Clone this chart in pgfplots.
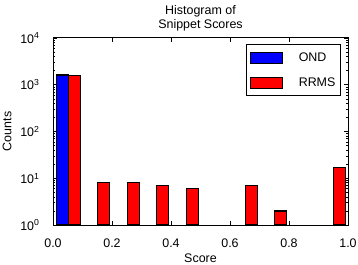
\documentclass[border=0pt]{standalone}
\usepackage{fontspec}
\setmainfont{Liberation Sans}
\usepackage{pgfplots}
\pgfplotsset{compat=1.18}
\begin{document}
\begin{tikzpicture}
\begin{axis}[
  scale only axis,
  width=295bp, height=187bp,
  xmin=0, xmax=1,
  ymode=log, ymin=1, ymax=10000,
  xtick={0,0.2,0.4,0.6,0.8,1.0},
  xticklabels={0.0,0.2,0.4,0.6,0.8,1.0},
  ytick={1,10,100,1000,10000},
  yticklabels={10\textsuperscript{0},10\textsuperscript{1},10\textsuperscript{2},10\textsuperscript{3},10\textsuperscript{4}},
  tick label style={font=\fontsize{12.5}{14}\selectfont},
  xticklabel style={yshift=-10bp},
  yticklabel style={xshift=-10bp},
  label style={font=\fontsize{12.5}{14}\selectfont},
  xlabel={Score}, ylabel={Counts},
  xlabel style={yshift=0bp},
  ylabel style={yshift=2bp},
  title={Histogram of\\Snippet Scores},
  title style={font=\fontsize{12.5}{14}\selectfont, align=center, yshift=-3bp},
  axis line style={line width=1pt},
  major tick length=4bp, minor tick length=2bp,
  tick style={black, line width=0.6pt},
  tick align=inside,
  bar width=11.8bp,
  legend style={at={(0.976,0.968)}, anchor=north east, draw=black, line width=1pt,
    font=\fontsize{12.5}{14}\selectfont, inner xsep=3bp, inner ysep=6bp,
    row sep=11bp, legend cell align=left},
  legend image code/.code={\draw[#1, line width=1pt] (0bp,-5.5bp) rectangle (32bp,5.5bp);},
]
\addplot[ybar, bar shift=0pt, fill=blue, draw=black, line width=1.2pt] coordinates {(0.032,1620)};
\addlegendentry{\hspace{14bp}OND\hspace{7bp}}
\addplot[ybar, bar shift=0pt, fill=red, draw=black, line width=1.2pt] coordinates {
(0.072,1600) (0.172,8) (0.272,8) (0.372,7) (0.472,6) (0.672,7) (0.772,2) (0.972,17)};
\addlegendentry{\hspace{14bp}RRMS\hspace{7bp}}
\end{axis}
\pgfresetboundingbox
\path (current axis.south west) ++(-53bp,-40bp) coordinate (bl);
\path (current axis.south west) ++(305bp,225bp) coordinate (tr);
\path (bl) rectangle (tr);
\end{tikzpicture}
\end{document}
